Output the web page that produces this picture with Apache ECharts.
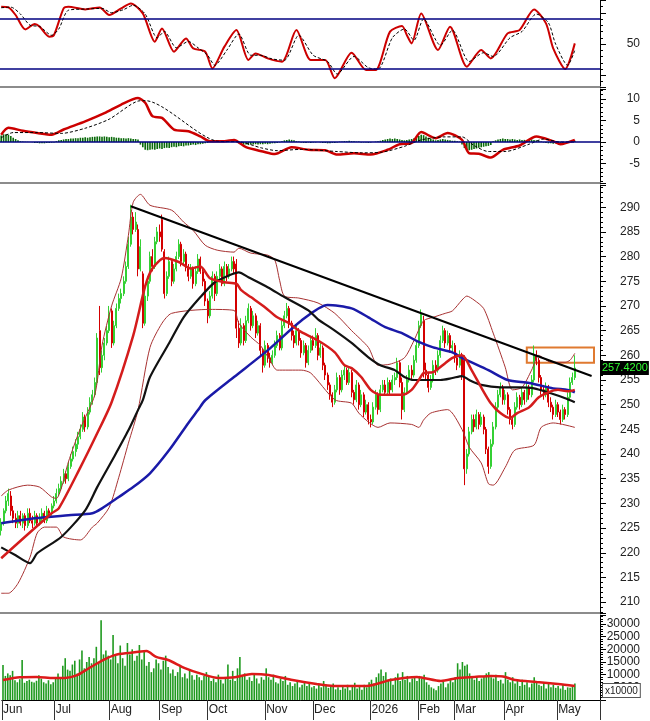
<!DOCTYPE html>
<html><head><meta charset="utf-8">
<script src="https://cdn.jsdelivr.net/npm/echarts@6/dist/echarts.min.js"></script>
<style>html,body{margin:0;padding:0;background:#fff}#c{width:650px;height:721px}</style>
</head><body><div id="c"></div>
<script>
// ---------- DATA ----------
const totalSlots = 250;
const monthLabels = ['Jun','Jul','Aug','Sep','Oct','Nov','Dec','2026','Feb','Mar','Apr','May'];
const monthStarts = [0, 22, 45, 66, 86, 110, 130, 154, 174, 189, 210, 232];

// daily candles [open, close, low, high]
const candles = [
[224.5,226,223.5,227],[226,228.5,225.5,229],[228.5,230.5,228,231.5],[230.5,232,229.5,233],[231.5,228.5,227.5,232.5],
[228.5,227,226,229.5],[227,226,225,228],[226,227.5,225,228.5],[227.5,226,225.5,228.5],[226,227.5,225,228],
[227.5,225.5,224.5,228],[225.5,228,225,229],[228,226.5,226,229],[226.5,226,225,227.5],[226,227.5,225.5,228.5],
[227.5,226,225.5,228],[226,227,225.5,228],[227,228,226.5,229],[228,226.5,226,228.5],[226.5,228.5,226,229.5],
[228.5,228,227,229],[228,229.5,227.5,230],
[229.5,230.5,229,231.5],[230.5,232,230,233],[232,233,231.5,234],[233,234.5,232.5,235.5],[234.5,236,234,237],
[236,235,234,236.5],[235,237.5,234.5,238.5],[237.5,239,237,240],[239,240.5,238.5,241.5],[240.5,242,239.5,243],
[242,243.5,241,244.5],[243.5,245,243,246],[245,247.5,244.5,248.5],[247.5,245.5,244.5,248],[245.5,248.5,245,249.5],
[248.5,250.5,248,251.5],[250.5,252,250,253],[252,254.5,251.5,255.5],[254.5,263.5,254,264.5],[265,257.5,256,270],
[257.5,260,256.5,261],[260,262.5,259,263.5],[262.5,265,262,266],
[265,268.5,264.5,270],[269,262.5,261.5,269.5],[262.5,266,262,267],[266,269.5,265.5,270.5],[269.5,271.5,269,272.5],
[271.5,272.5,270.5,273.5],[272.5,275,272,276],[275,278,274.5,279],[278,282.5,277.5,284],[282.5,288,282,290.5],
[288,285.5,284.5,289],[285.5,287,285,289],[285.5,277.5,276,286.5],[277.5,282,277,283.5],[276.5,266.5,265.5,277],
[266.5,272,266,273],[272,275,271,276],[275,280,274.5,281],[280,278,277,281.5],[278,283,277.5,284],[283,285,282.5,286],
[285,284,283,286.5],[287.5,281.5,281,288.5],[281,272.5,271.5,281.5],[272.5,276,272,277],[276,279,275.5,280],
[279,275,274,279.5],[275,277.5,274.5,278.5],[277.5,280,277,281],[280,282.5,279.5,283.5],[282.5,279,278,283],
[279,280.5,278.5,281.5],[280.5,278,277,281],[278,276,275,278.5],[276,277.5,275.5,278.5],[277.5,274.5,273.5,278],
[274.5,277,274,278],[277,279.5,276.5,280.5],[279.5,277,276.5,280],[277,275,274,277.5],[275,271,270,275.5],
[271,268,266.5,271.5],[268,272,267.5,273],[272,276,271.5,277],[276,272.5,271,276.5],[272.5,276,272,277],
[276,277.5,275.5,278.5],[277.5,274.5,274,278],[274.5,278,274,279],[278,276,275,278.5],[276,277.5,275.5,278.5],
[277.5,279,277,280],[279,277.5,276.5,280],[278.5,265.5,263.5,279.5],[265.5,262.5,261.5,267],[262.5,266,262,267.5],
[266,263,262,266.5],[263,267,262.5,268],[267,269.5,266.5,270.5],[269.5,266,265,270],[266,268,265.5,269],
[268,264.5,263.5,268.5],[264.5,266,264,267],[266,261,260,266.5],[261,258,256.5,261.5],
[258,262,257.5,263],[262,259.5,258.5,262.5],[259.5,258.5,257.5,260.5],[258.5,260,258,261],[260,262,259.5,263],
[262,264,261.5,265],[264,261.5,261,264.5],[261.5,266,261,267],[266,268,265.5,269],[268,269.5,267.5,270.6],
[269.5,266.5,265.5,270],[266.5,264,263,267],[264,262.5,261.5,265],[262.5,265,262,266],[265,263,262,265.5],
[263,260.5,259.5,263.5],[260.5,262,260,263],[262,258.5,257.5,262.5],[258.5,261,258,262],[261,263,260.5,264],
[263,262,261,264],[262,264,261.5,265.5],[264,260,259,264.5],[260,261.5,259.5,262.5],[261.5,258,257,262],
[258,256,255,258.5],[256,254,253,256.5],[254,252,251,254.5],[252,250.5,249.5,252.5],[250.5,253,250,254],
[253,255.5,252.5,256.5],[255.5,253,252,256],[253,256,252.5,257],[256,257,255,258],[257,254.5,254,257.5],
[254.5,256.5,254,257.5],[256.5,252.5,251.5,257],[252.5,251,250,253],[251,254,250.5,255],[254,250,249,254.5],
[250,252,249.5,253],[252,248.5,247.5,252.5],[248.5,250,248,251],[250,247,246,250.5],
[247,246.5,245.4,248],[246.5,249.5,246,250.5],[249.5,252,249,253],[252,249,248,252.5],[249,253,248.5,254],
[253,254,252.5,255],[254,252.5,252,255],[252.5,254.5,252,255.5],[254.5,253,252,255],[253,255,252.5,256],
[255,255.5,254,256.5],[255.5,258.5,255,259.5],[258.5,254.5,253.5,259],[254.5,249,247,255.5],[249,252.5,248.5,253.5],
[252.5,255,252,256],[255,257,254.5,258],[257,256,255,258],[256,259,255.5,260],[259,262,258.5,263],
[262,266,261.5,267],[266,268.5,265.5,269.3],[267,257,255.5,268],[257,256,255,258.5],[256,253.5,252.5,256.5],
[253.5,255,253,256],[255,258,254.5,259],[258,257,256,259],[257,260,256.5,261],[260,263,259.5,264],
[263,265,262.5,266],[265,262.5,261.5,265.5],[262.5,264,262,265],[264,261.5,260.5,264.5],[261.5,262,260.5,263],
[262,259.5,258.5,262.5],[259.5,258,257,260.5],[258,260,257.5,261],[260,256,255,260.5],[259,237,233.7,260],
[237,240,236,241],[240,244.5,239.5,245.5],[244.5,247,244,248],[247,245.5,244.5,248],[245.5,248,245,249],
[248,246,245,248.5],[246,247.5,245.5,248.5],[247.5,245,244,248],[245,241,240,245.5],[241,237.5,236,241.5],
[237.5,242,237,243],[242,245.5,241.5,246.5],[245.5,249.5,245,250.5],[249.5,252,249,253],[252,253.5,251.5,254.5],
[253.5,251,250,254],
[251,252,250,253],[252,249,248,252.5],[249,247,246,249.5],[247,246,245,247.5],[246,249.5,245.5,250.5],
[249.5,251.5,249,252.5],[251.5,250,249,252],[250,252.5,249.5,253.5],[252.5,251,250,253],[251,253.5,250.5,254.5],
[253.5,252,251,254],[252,255,251.5,256],[255,260,254.5,262],[260,259,258,261],[259,255.5,254.5,259.5],
[255.5,253,252,256],[253,252,251,254],[252,253.5,251.5,254.5],[253.5,250.5,249.5,254],[250.5,249.5,248.5,251.5],
[249.5,248,247,250],[248,250,247.5,251],
[250,248.5,247.5,250.5],[248.5,247,246,249],[247,249,246.5,250],[249,248,247,249.5],[248,251.5,247.5,252.5],
[251.5,254.5,251,255.5],[254.5,255.5,254,256.5],[255.5,257.42,255,260]
];

const volume = [
13800,9500,10500,9800,11500,7800,7000,8200,15800,6800,7500,8000,7200,6900,7600,9800,8400,7000,6500,7800,6200,7000,
9000,10500,8800,13500,16500,12000,11500,14000,15500,10500,16000,19500,12500,15000,17000,14500,16500,21000,15000,31500,18000,19500,17500,
16000,25700,17500,14500,21500,16500,13500,22500,18000,20000,15500,17500,21700,16000,19500,13500,15000,11000,12500,16000,14500,
12000,15500,17500,13000,10500,12000,9500,11000,13500,9000,10500,8500,11500,9800,8000,10000,9000,7800,9500,11000,
9500,7500,8500,7000,10000,8000,6500,9000,14000,8000,11500,7500,12500,17000,9500,10500,8000,9000,7500,10000,8500,6500,9000,8000,
12500,9000,8000,10000,7000,6500,8500,7500,9500,6000,7000,5500,6500,7500,5000,6000,7000,5500,6500,5000,
5500,4500,6000,5000,7500,6000,4800,5500,6500,4200,5000,4000,5500,4500,6000,3800,5200,6800,4500,5500,4000,6000,5000,7000,
8000,6500,9000,10500,12000,9500,11000,7500,8500,6000,9000,10500,7500,11000,8000,9500,7000,8500,9000,7500,
9500,8500,10000,7000,6000,5000,4500,3800,5500,6500,7500,5000,6500,8000,7000,
9000,14500,12000,15000,13500,14000,10500,9500,8000,9000,7500,8500,9500,10500,11000,9000,8500,10000,7500,8000,6500,
11000,8000,7000,9000,6500,7500,5500,8000,6000,7000,5000,6500,9000,7500,6000,5500,7000,4500,6500,5000,6000,4800,
5500,4500,6000,4000,5000,4800,5500,6500
];
const volumeMA = [[0,7900],[7,9000],[14,9100],[21,8700],[26,8700],[31,9800],[36,12600],[42,15800],[47,17800],[52,18500],
[60,19300],[64,17000],[69,15800],[76,12600],[83,10300],[90,8700],[97,9000],[104,10300],[111,9900],[121,7900],[131,6300],
[138,5500],[152,5500],[162,7900],[173,9100],[183,7500],[190,8700],[197,9100],[204,9500],[209,9300],[214,7900],[223,7100],
[232,6300],[239,5500]];

const ma20 = [[0,218.9],[21,228],[24,229],[33,237.3],[40,244.2],[46,250.5],[55,264],[60,274],[63,277.6],[68,279.7],[74,278.9],
[79,277.6],[83,278],[87,275.6],[93,274.8],[98,274.5],[100,273.2],[104,271.8],[110,269.7],[115,267.7],[120,266.5],[124,265],
[132,263],[139,260.6],[143,258],[146,257.4],[150,255.6],[154,253],[158,252],[167,252],[171,253],[174,255],[176,256.4],
[180,256.6],[185,258.4],[188,259.5],[192,260],[196,257],[200,253.5],[204,250.3],[208,248.3],[212,247.3],[215,248.3],
[220,249.5],[224,251.5],[228,252.5],[232,253],[236,252.7],[239,253]];
const bbUpper = [[0,231.5],[3,232.7],[11,233.7],[16,233.3],[21,231.3],[23,231],[25,233],[28,238.4],[33,245.2],[39,252],
[42,262],[46,270],[50,275.6],[53,284.3],[55,291],[58,292.6],[62,290.4],[71,289.4],[76,287],[80,285.3],[85,282.3],[90,281.3],
[97,280.9],[99,281.7],[104,280.7],[111,280.3],[114,279.3],[116,275.2],[118,272],[124,271.6],[132,270.6],[139,268.5],
[146,265],[153,261.6],[157,258],[162,258.2],[168,259.5],[172,263],[176,267],[180,267.7],[185,268.5],[188,269],[192,271.2],
[194,272],[197,271.2],[201,269.5],[205,264.5],[210,257.6],[213,253],[217,253.5],[221,257],[224,260],[226,259.4],
[229,258.6],[235,258.6],[237,259],[239,260.4]];
const bbLower = [[0,211.8],[3,211.8],[7,213.8],[12,219.1],[15,224],[18,225.2],[23,225.2],[26,223.2],[33,222.6],[38,225.2],
[40,226],[45,229.2],[49,235.3],[53,242.2],[57,248.9],[62,261.6],[67,266.5],[71,268.5],[87,269.3],[97,269.1],[99,266.5],
[104,263.7],[108,262],[112,259],[115,257],[125,257],[129,256.4],[139,251],[146,250.3],[149,248.3],[153,246.5],[157,245.4],
[162,246.3],[171,246],[174,245.4],[176,246.9],[179,248.3],[186,249],[192,245],[195,241.4],[200,238.2],[203,234],
[205,233.7],[210,237.3],[214,240.8],[222,241.8],[225,245.4],[230,246.3],[239,245.4]];
const ma50 = [[0,221.1],[6,219.5],[12,217.9],[15,219.9],[25,223.2],[35,228.6],[40,233.3],[47,239.4],[53,244.8],[57,248.9],
[59,250.9],[62,255.6],[70,262.5],[76,267.7],[83,271.8],[89,274.8],[95,276.2],[99,276.8],[103,275.8],[111,273.8],
[118,271.8],[128,269.1],[132,267.3],[139,265],[146,262.5],[153,259.6],[158,258],[164,257],[168,255.6],[172,255],
[183,255],[188,255.4],[192,255.8],[195,255],[200,254],[208,253.5],[216,253.5],[222,253.3],[229,252.3],[235,251.3],[239,250.5]];
const ma100 = [[0,226],[14,227],[28,227.6],[38,228],[42,229],[49,231.3],[55,233.3],[62,236.1],[70,240.8],[78,246.3],
[82,248.9],[85,250.9],[97,255.6],[111,261],[125,267],[136,270.2],[146,269.5],[153,267.7],[160,265.7],[167,264.5],
[174,262.7],[180,261.6],[188,260.6],[192,259.5],[203,257],[211,255],[220,254.4],[230,253.3],[236,253],[239,252.5]];
const trendLine = [[54,290.2],[246,255.8]];
const lastPrice = 257.42;
const boxRange = [[219, 261.6], [247, 258.5]];

const rsi = [[0,79.9],[3,79.3],[6,73.2],[10,61.7],[14,66],[16,63.9],[20,55.9],[22,57.2],[26,78.5],[28,79.9],[35,77.7],
[41,79.3],[45,73.2],[50,78.5],[54,82.5],[59,74.5],[64,51.9],[67,62.5],[72,43.9],[77,54.5],[80,46.5],[85,43.9],[88,30.5],
[93,47.9],[98,61.2],[103,37.2],[106,42.5],[111,38.5],[117,35.9],[123,61.2],[129,37.2],[135,37.2],[139,22.6],[146,43.1],
[152,29.2],[156,29.2],[162,59.9],[167,64.4],[169,57.2],[171,50.5],[175,74.5],[182,45.2],[187,63.9],[194,31.9],[200,45.2],
[204,38.5],[211,58.5],[216,61.2],[222,77.7],[227,66.5],[230,46.5],[235,30],[239,50.5]];
const rsiSignal = [[0,79],[4,79.5],[8,74],[12,65],[16,64],[21,57],[24,62],[28,77],[36,78],[42,78.5],[46,75],[51,77.5],
[55,81],[60,74],[65,55],[68,60],[73,47],[78,52],[82,47],[86,41],[89,33],[94,45],[99,58],[104,41],[108,41],[113,38],
[118,37],[124,57],[130,41],[136,36],[140,26],[147,40],[153,31],[157,30],[163,55],[168,62],[172,53],[176,70],[183,49],
[188,61],[195,36],[201,43],[205,40],[212,55],[217,60],[223,74],[228,67],[231,50],[236,33],[239,45]];
const rsiLevels = [70, 30];

const macd = [[0,1.7],[3,3.3],[9,2.6],[15,2.1],[21,1.7],[26,2.9],[35,4.8],[43,6.7],[50,8.7],[57,10.2],[60,9.1],[63,6],
[67,5.6],[72,2.9],[78,2.5],[83,1.3],[87,0.2],[93,0.2],[97,0.5],[102,-1.2],[109,-2.2],[114,-2.8],[121,-1.2],[128,-1.8],
[135,-1.9],[140,-2.9],[147,-2.6],[154,-2.9],[161,-1.8],[166,-0.5],[171,-0.2],[175,2.3],[181,0.9],[186,2.1],[192,0.5],
[195,-2.6],[199,-2.7],[204,-3.6],[209,-1.8],[216,-0.8],[223,1.3],[230,0.2],[233,-0.5],[239,0.5]];
const macdSignal = [[0,1.0],[5,2.2],[15,2.2],[25,2.0],[35,3.2],[45,5.3],[57,9.5],[60,9.6],[90,0.2],[100,0],[108,-1.3],
[115,-2.0],[125,-1.7],[140,-2.2],[150,-2.5],[158,-2.4],[168,-1.0],[175,0.5],[185,1.2],[192,1.2],[197,-0.8],[203,-2.2],
[210,-2.2],[220,-0.5],[226,0.7],[233,0],[239,0]];
const macdHist = [
1.5,1.8,1.8,1.7,1.4,1.0,0.7,0.4,0.2,
0.1,0.05,0.05,0,-0.05,
-0.2,-0.25,-0.3,-0.3,-0.3,-0.25,-0.2,-0.15,-0.1,
0.2,0.4,0.5,0.6,0.7,0.7,0.8,0.8,0.9,0.9,1.0,1.0,1.1,1.0,1.1,1.2,1.2,1.3,1.3,1.2,1.3,1.2,1.1,1.2,1.1,1.0,1.0,0.9,0.9,0.8,0.9,0.8,0.7,0.7,0.6,
-0.6,-1.2,-1.8,-1.9,-1.8,-1.7,-1.8,-1.6,-1.5,-1.6,-1.4,-1.3,-1.4,-1.2,-1.1,-1.2,-1.0,-0.9,-1.0,-0.8,-0.8,-0.7,-0.6,-0.7,-0.5,-0.5,-0.4,-0.3,-0.2,
0.1,0.2,0.2,0.3,0.3,0.2,0.3,0.3,0.2,0.3,0.2,0.1,
-0.3,-0.5,-0.6,-0.6,-0.7,-0.6,-0.6,-0.5,-0.6,-0.5,-0.5,-0.4,-0.5,-0.4,-0.3,-0.3,-0.2,-0.1,
0.2,0.4,0.5,0.6,0.5,0.4,
0.2,0.1,-0.1,-0.2,-0.2,-0.1,-0.2,-0.1,-0.1,0,-0.1,-0.2,-0.2,-0.3,-0.3,-0.2,-0.2,-0.1,0.1,0.1,0.2,0.2,0.3,0.2,0.2,0.1,0.1,-0.1,-0.1,-0.1,-0.2,-0.1,0,0.1,0.2,0.3,
0.5,0.6,0.7,0.8,0.7,0.8,0.7,0.6,0.5,0.4,0.5,0.6,0.7,0.9,
1.1,1.4,1.7,1.6,1.3,1.0,0.8,0.6,
0.4,0.5,0.6,0.7,0.6,0.5,0.4,0.3,0.3,0.2,0.1,
-0.6,-1.4,-2.0,-1.9,-1.8,-1.6,-1.5,-1.3,-1.2,-1.1,-1.0,-0.9,-0.7,
0.2,0.4,0.6,0.7,0.8,0.7,0.7,0.6,0.7,0.6,0.5,0.6,0.5,0.5,0.4,0.5,0.6,0.5,
0.4,0.3,0.1,-0.1,-0.2,-0.3,-0.3,-0.4,-0.3,-0.3,
-0.3,-0.2,-0.1,0,0.1,0.2,0.3
];

// ---------- CHART ----------
const days = Array.from({length: totalSlots}, (_, i) => i);
const FONT = 'Liberation Sans';
const isMonth = (i) => monthStarts.indexOf(i) >= 0;

function xAx(gi, last) {
  return {
    type: 'category', gridIndex: gi, data: days, boundaryGap: true,
    axisLine: { show: true, onZero: false, lineStyle: { color: last ? '#000' : '#8c8c8c', width: last ? 1 : 2 } },
    axisTick: last ? { show: true, interval: isMonth, length: 20, lineStyle: { color: '#333' } } : { show: false },
    axisLabel: last ? {
      show: true, interval: isMonth, align: 'left', margin: 4, fontSize: 12, fontFamily: FONT, color: '#222',
      formatter: (v, i) => monthLabels[monthStarts.indexOf(Number(v))] || ''
    } : { show: false },
    splitLine: { show: false }
  };
}
function yAx(gi, min, max, step, labelFn, minorSplit) {
  return {
    type: 'value', gridIndex: gi, position: 'right', min: min, max: max,
    minInterval: step, maxInterval: step, splitNumber: Math.round((max - min) / step),
    axisLine: { show: true, lineStyle: { color: '#000', width: 1 } },
    axisTick: { show: true, length: 6, lineStyle: { color: '#000' } },
    minorTick: { show: true, splitNumber: minorSplit, length: 3, lineStyle: { color: '#000' } },
    splitLine: { show: false },
    axisLabel: { show: true, align: 'right', margin: 40, fontSize: 12, fontFamily: FONT, color: '#222',
      showMinLabel: true, showMaxLabel: true, formatter: labelFn }
  };
}
const mult = (step) => (v) => (Math.abs(v / step - Math.round(v / step)) < 1e-6 ? String(Math.round(v)) : '');

const lineS = (name, data, xi, yi, color, width, extra) => Object.assign({
  name: name, type: 'line', xAxisIndex: xi, yAxisIndex: yi, data: data, showSymbol: false, symbol: 'none',
  lineStyle: { color: color, width: width }, smooth: 0.25, silent: true, z: 3
}, extra || {});

const option = {
  animation: false,
  backgroundColor: '#fff',
  textStyle: { fontFamily: FONT },
  grid: [
    { left: 0, right: 50, top: 0, height: 87 },
    { left: 0, right: 50, top: 89, height: 94 },
    { left: 0, right: 50, top: 185, height: 428 },
    { left: 0, right: 50, top: 615, height: 85 }
  ],
  xAxis: [xAx(0, false), xAx(1, false), xAx(2, false), xAx(3, true)],
  yAxis: [
    yAx(0, 15.6, 85.2, 25, (v) => (v === 50 ? '50' : ''), 5),
    yAx(1, -9.5, 12.3, 5, mult(5), 5),
    yAx(2, 207.8, 294.5, 5, mult(5), 5),
    yAx(3, 0, 33550, 5000, (v) => (v > 0 && v % 5000 === 0 ? String(v) : ''), 5)
  ],
  graphic: [{
    type: 'text', left: 602, top: 683, z: 100,
    style: { text: 'x10000', font: '10px "Liberation Sans"', fill: '#222', backgroundColor: '#fff',
      borderColor: '#555', borderWidth: 1, padding: [2, 2, 1, 2] }
  }],
  series: [
    // RSI panel
    lineS('RSI', rsi, 0, 0, '#cc0000', 2, {
      markLine: { silent: true, symbol: ['none', 'none'], label: { show: false },
        lineStyle: { color: '#000080', width: 1.5, type: 'solid' },
        data: rsiLevels.map(v => ({ yAxis: v })) }
    }),
    lineS('RSI signal', rsiSignal, 0, 0, '#000', 1, { lineStyle: { color: '#000', width: 1, type: [3, 2] }, z: 4 }),
    // MACD panel
    { name: 'MACD hist', type: 'bar', xAxisIndex: 1, yAxisIndex: 1, data: macdHist, barWidth: 1.6,
      itemStyle: { color: '#0b6b0b' }, silent: true,
      markLine: { silent: true, symbol: ['none', 'none'], label: { show: false },
        lineStyle: { color: '#000080', width: 1.5, type: 'solid' }, data: [{ yAxis: 0 }] } },
    lineS('MACD', macd, 1, 1, '#cc0000', 2.5),
    lineS('MACD signal', macdSignal, 1, 1, '#000', 1, { lineStyle: { color: '#000', width: 1, type: [3, 2] }, z: 4 }),
    // Price panel
    { name: 'Price', type: 'candlestick', xAxisIndex: 2, yAxisIndex: 2, data: candles, barWidth: 1.6, silent: true, z: 2,
      itemStyle: { color: '#34d034', color0: '#d40000', borderColor: '#34d034', borderColor0: '#d40000', borderWidth: 1 },
      markArea: { silent: true, itemStyle: { color: 'rgba(0,0,0,0)', borderColor: '#e07a30', borderWidth: 2 },
        data: [[{ xAxis: boxRange[0][0], yAxis: boxRange[0][1] }, { xAxis: boxRange[1][0], yAxis: boxRange[1][1] }]] } },
    { name: 'Last', type: 'line', xAxisIndex: 2, yAxisIndex: 2, data: [], silent: true, z: 20,
      markLine: { silent: true, symbol: ['none', 'none'], animation: false,
        lineStyle: { color: 'rgba(255,255,255,0)', width: 1, type: 'solid' },
        label: { show: true, position: 'end', distance: 1, formatter: lastPrice.toFixed(4), color: '#33ff33',
          backgroundColor: '#000', padding: [2, 1, 1, 1], fontSize: 11, fontFamily: FONT, opacity: 1 },
        data: [{ yAxis: lastPrice }] } },
    lineS('BB upper', bbUpper, 2, 2, '#a83232', 1),
    lineS('BB lower', bbLower, 2, 2, '#a83232', 1),
    lineS('MA100', ma100, 2, 2, '#1a1aa8', 2.5),
    lineS('MA50', ma50, 2, 2, '#111', 2.2),
    lineS('MA20', ma20, 2, 2, '#d41c1c', 2.5),
    lineS('Trend', trendLine, 2, 2, '#000', 2, { smooth: false }),
    // Volume panel
    { name: 'Volume', type: 'bar', xAxisIndex: 3, yAxisIndex: 3, data: volume, barWidth: 1.6,
      itemStyle: { color: '#1f9a1f' }, silent: true },
    lineS('Vol MA', volumeMA, 3, 3, '#dd1a1a', 2.5)
  ]
};
echarts.init(document.getElementById('c'), null, { renderer: 'canvas' }).setOption(option);
</script>
</body></html>
